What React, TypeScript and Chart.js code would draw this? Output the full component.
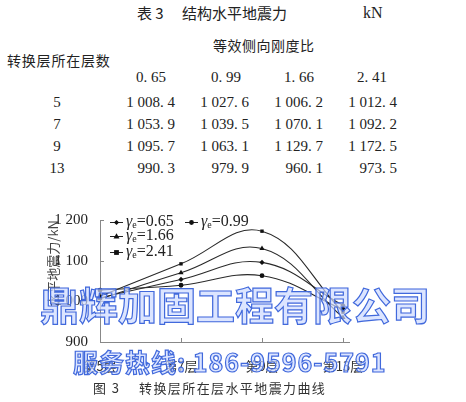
import * as React from "react";
import { useEffect, useRef } from "react";
import { Chart, registerables } from "chart.js";

// 转换层所在层数 / 等效侧向刚度比
const floorLabels = ["第5层", "第7层", "第9层", "第13层"];
const floorNums = ["5", "7", "9", "13"];
const ratioLabels = ["0.65", "0.99", "1.66", "2.41"];

// 结构水平地震力 kN
const force065 = [1008.4, 1053.9, 1095.7, 990.3];
const force099 = [1027.6, 1039.5, 1063.1, 979.9];
const force166 = [1006.2, 1070.1, 1129.7, 960.1];
const force241 = [1012.4, 1092.2, 1172.5, 973.5];

const yTicks = [900, 1000, 1100, 1200];

const seriesList = [force065, force099, force166, force241];
const markerStyles = ["rectRot", "circle", "triangle", "rect"];
const markerSizes = [2.6, 2.4, 3, 2.4];

const serif = '"Liberation Serif", "Times New Roman", serif';
const cjk = '"Noto Sans CJK SC", sans-serif';

// 1008.4 -> "1 008. 4"
function fmtNum(v: number, decimals: number) {
    const s = v.toFixed(decimals);
    const [intPart, dec] = s.split(".");
    const grouped = intPart.replace(/\B(?=(\d{3})+(?!\d))/g, " ");
    return dec !== undefined ? grouped + ". " + dec : grouped;
}

function drawMarker(ctx: CanvasRenderingContext2D, style: string, r: number, x: number, y: number) {
    ctx.beginPath();
    if (style === "circle") {
        ctx.arc(x, y, r, 0, Math.PI * 2);
    } else if (style === "rect") {
        ctx.rect(x - r, y - r, r * 2, r * 2);
    } else if (style === "triangle") {
        ctx.moveTo(x, y - r * 1.1);
        ctx.lineTo(x + r, y + r * 0.7);
        ctx.lineTo(x - r, y + r * 0.7);
        ctx.closePath();
    } else {
        ctx.moveTo(x, y - r);
        ctx.lineTo(x + r, y);
        ctx.lineTo(x, y + r);
        ctx.lineTo(x - r, y);
        ctx.closePath();
    }
    ctx.fill();
}

const innerTicks = {
    id: "innerTicks",
    afterDraw(chart: any) {
        const { ctx, chartArea, scales } = chart;
        ctx.save();
        ctx.strokeStyle = "#888";
        ctx.lineWidth = 1;
        ctx.beginPath();
        yTicks.forEach((t) => {
            const y = Math.round(scales.y.getPixelForValue(t)) + 0.5;
            ctx.moveTo(chartArea.left, y);
            ctx.lineTo(chartArea.left + 4, y);
        });
        floorLabels.forEach((_, i) => {
            const x = Math.round(scales.x.getPixelForValue(i)) + 0.5;
            ctx.moveTo(x, chartArea.bottom);
            ctx.lineTo(x, chartArea.bottom - 4);
        });
        // axis runs a little past the last floor
        const yb = Math.round(chartArea.bottom) + 0.5;
        ctx.moveTo(chartArea.right, yb);
        ctx.lineTo(chartArea.right + 7, yb);
        ctx.stroke();
        ctx.restore();
    },
};

// legend spots, relative to the chart area's top-left corner
const legendPos = [
    { x: 10, y: 2 },
    { x: 85, y: 2 },
    { x: 10, y: 16 },
    { x: 10, y: 32 },
];

const insideLegend = {
    id: "insideLegend",
    afterDraw(chart: any) {
        const { ctx, chartArea } = chart;
        ctx.save();
        legendPos.forEach((pos, i) => {
            const p = { x: chartArea.left + pos.x, y: chartArea.top + pos.y };
            ctx.strokeStyle = "#222";
            ctx.lineWidth = 1;
            ctx.beginPath();
            ctx.moveTo(p.x, p.y + 0.5);
            ctx.lineTo(p.x + 13, p.y + 0.5);
            ctx.stroke();
            ctx.fillStyle = "#111";
            drawMarker(ctx, markerStyles[i], markerSizes[i], p.x + 6.5, p.y + 0.5);
            let tx = p.x + 16;
            ctx.textBaseline = "middle";
            ctx.fillStyle = "#222";
            ctx.font = "italic 16px " + serif;
            ctx.fillText("γ", tx, p.y);
            tx += ctx.measureText("γ").width;
            ctx.font = "10px " + serif;
            ctx.fillText("e", tx, p.y + 3);
            tx += ctx.measureText("e").width;
            ctx.font = "16px " + serif;
            ctx.fillText("=" + ratioLabels[i], tx, p.y);
        });
        ctx.restore();
    },
};

function ForceChart() {
    const canvasRef = useRef<HTMLCanvasElement>(null);
    useEffect(() => {
        const ctx = canvasRef.current?.getContext("2d");
        Chart.register(...registerables);

        const chart = new Chart(ctx, {
            type: "line",
            data: {
                labels: floorLabels,
                datasets: seriesList.map((data, i) => ({
                    label: "γe=" + ratioLabels[i],
                    data: data,
                    fill: false,
                    borderColor: "#2a2a2a",
                    borderWidth: 1.1,
                    tension: 0.4,
                    pointStyle: markerStyles[i],
                    pointRadius: markerSizes[i],
                    pointBackgroundColor: "#111",
                    pointBorderColor: "#111",
                    pointBorderWidth: 0,
                })),
            },
            options: {
                animation: false,
                responsive: false,
                layout: { padding: { left: 40, right: 123, top: 20, bottom: 0 } },
                plugins: { legend: { display: false }, tooltip: { enabled: false } },
                scales: {
                    x: {
                        type: "category",
                        offset: false,
                        grid: { display: false },
                        border: { color: "#888" },
                        ticks: { font: { family: cjk, size: 13 }, color: "#333", maxRotation: 0, padding: 8 },
                        afterFit: (s: any) => { s.height = 58; },
                    },
                    y: {
                        min: 900,
                        max: 1200,
                        grid: { display: false },
                        border: { color: "#888" },
                        ticks: {
                            stepSize: 100,
                            callback: (v: any) => fmtNum(Number(v), 0),
                            font: { family: serif, size: 15 },
                            color: "#222",
                            padding: 4,
                        },
                        title: {
                            display: true,
                            text: "水平地震力/kN",
                            align: "end",
                            color: "#444",
                            font: { family: cjk, size: 13 },
                            padding: { top: 5, bottom: 0 },
                        },
                        afterFit: (s: any) => { s.width = 60; },
                    },
                },
            },
            plugins: [innerTicks, insideLegend],
        } as any);

        return () => {
            chart.destroy();
        };
    }, []);

    return (
        <canvas ref={canvasRef} width={466} height={200}
            style={{ position: "absolute", left: 0, top: 200, width: 466, height: 200 }}></canvas>
    );
}

const colRight = [175, 249, 323, 397];
const colCenter = [151, 226, 299, 372];
const rowCenter = [102, 124, 146, 168];

function App() {
    const txt = (extra: any): any => ({ position: "absolute", whiteSpace: "nowrap", color: "#222", lineHeight: 1, ...extra });
    const watermark = {
        color: "rgba(205,218,255,0.7)",
        WebkitTextStroke: "1.2px #4169dc",
        fontFamily: cjk,
        fontWeight: 700,
    };
    return (
        <div style={{ position: "absolute", left: 0, top: 0, width: 466, height: 402, background: "#fff", overflow: "hidden" }}>
            <div style={txt({ left: 137, top: 5, fontFamily: cjk, fontSize: 15 })}>表 3　 结构水平地震力</div>
            <div style={txt({ left: 363, top: 5, fontFamily: serif, fontSize: 16 })}>kN</div>
            <div style={txt({ left: 213, top: 38, fontFamily: cjk, fontSize: 14, letterSpacing: 0.5 })}>等效侧向刚度比</div>
            <div style={txt({ left: 7, top: 53, fontFamily: cjk, fontSize: 14, letterSpacing: 0.8 })}>转换层所在层数</div>
            {ratioLabels.map((r, i) => (
                <div key={r} style={txt({ left: colCenter[i] - 40, width: 80, textAlign: "center", top: 70, fontFamily: serif, fontSize: 15 })}>
                    {fmtNum(Number(r), 2)}
                </div>
            ))}
            {floorNums.map((f, r) => (
                <React.Fragment key={f}>
                    <div style={txt({ left: 57 - 20, width: 40, textAlign: "center", top: rowCenter[r] - 7, fontFamily: serif, fontSize: 15 })}>{f}</div>
                    {seriesList.map((s, c) => (
                        <div key={c} style={txt({ left: colRight[c] - 80, width: 80, textAlign: "right", top: rowCenter[r] - 7, fontFamily: serif, fontSize: 15 })}>
                            {fmtNum(s[r], 1)}
                        </div>
                    ))}
                </React.Fragment>
            ))}
            <ForceChart />
            <div style={txt({ left: 93, top: 381, fontFamily: cjk, fontSize: 13, letterSpacing: 1.4, color: "#333" })}>图 3　 转换层所在层水平地震力曲线</div>
            <div style={txt({ left: 40, top: 284, fontSize: 39, ...watermark })}>鼎辉加固工程有限公司</div>
            <div style={txt({ left: 73, top: 349, fontSize: 25, letterSpacing: 1, ...watermark })}>服务热线: 186-9596-5791</div>
        </div>
    );
}

export default App;
